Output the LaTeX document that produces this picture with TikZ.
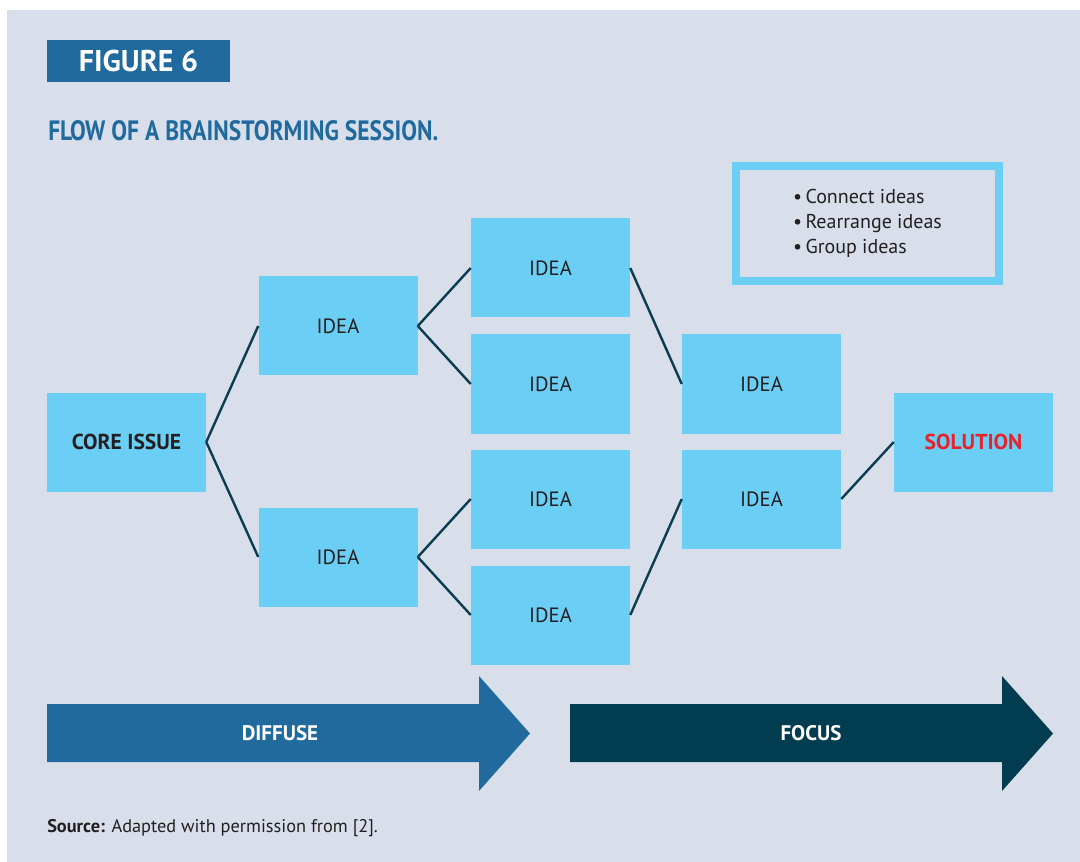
\documentclass[tikz,border=0pt]{standalone}
\usepackage{fontspec}
\setmainfont{PT Sans}
\newfontfamily\condfont[FakeStretch=0.84]{PT Sans}
\definecolor{panelgray}{HTML}{D8DFEB}
\definecolor{ideacyan}{HTML}{6BCFF5}
\definecolor{figblue}{HTML}{216A9E}
\definecolor{focusdark}{HTML}{023C50}
\definecolor{linkteal}{HTML}{0B3D50}
\definecolor{solred}{HTML}{E8212A}
\definecolor{inkdark}{HTML}{231F20}

\begin{document}
\begin{tikzpicture}[x=0.75pt,y=0.75pt,yscale=-1,xscale=1,
	idea/.style={fill=ideacyan, minimum width=119.25pt, minimum height=74.25pt, inner sep=0pt, text=inkdark, font=\fontsize{15.5}{18}\selectfont},
	link/.style={draw=linkteal, line width=1.8pt},
	banner/.style={text=white, font=\bfseries\fontsize{15.8}{18}\selectfont, inner sep=0.75pt}]
	\useasboundingbox (0,0) rectangle (1080,862);
	\fill [white] (0,0) rectangle (1080,862);
	\fill [panelgray] (7,10) rectangle (1080,862);

	% Text Node
	\node (figtag) [fill=figblue, minimum width=137.25pt, minimum height=31.5pt, inner sep=0pt, text=white, font=\bfseries\fontsize{22.5}{26}\selectfont] at (138.5,61) {FIGURE 6};
	% Text Node
	\node (title) [anchor=base west, inner sep=0pt, text=figblue, font=\condfont\bfseries\fontsize{21}{25}\selectfont] at (48,141) {FLOW OF A BRAINSTORMING SESSION.};
	% Text Node
	\node (todo) [draw=ideacyan, line width=6pt, minimum width=197.25pt, minimum height=86.25pt, inner sep=0pt, align=left, text=inkdark, font=\fontsize{15}{18.75}\selectfont] at (867.5,223.5) {\textbullet\,Connect ideas\\ \textbullet\,Rearrange ideas\\ \textbullet\,Group ideas};

	% Text Node
	\node (core) [idea, font=\bfseries\fontsize{16.2}{18}\selectfont] at (126.5,442) {CORE ISSUE};
	\node (i1) [idea] at (338,326) {IDEA};
	\node (i2) [idea] at (338,557) {IDEA};
	\node (i11) [idea] at (550.5,268) {IDEA};
	\node (i12) [idea] at (550.5,384) {IDEA};
	\node (i21) [idea] at (550.5,499) {IDEA};
	\node (i22) [idea] at (550.5,615) {IDEA};
	\node (f1) [idea] at (761.5,384) {IDEA};
	\node (f2) [idea] at (761.5,499) {IDEA};
	\node (sol) [idea, text=solred, font=\bfseries\fontsize{16.2}{18}\selectfont] at (973.5,442) {SOLUTION};

	% Connection
	\draw [link] (core.east) -- (i1.west);
	\draw [link] (core.east) -- (i2.west);
	\draw [link] (i1.east) -- (i11.west);
	\draw [link] (i1.east) -- (i12.west);
	\draw [link] (i2.east) -- (i21.west);
	\draw [link] (i2.east) -- (i22.west);
	\draw [link] (i11.east) -- (f1.west);
	\draw [link] (i22.east) -- (f2.west);
	\draw [link] (f2.east) -- (sol.west);

	% Arrows
	\fill [figblue] (47,704) -- (479,704) -- (479,676) -- (530,733.5) -- (479,791) -- (479,762) -- (47,762) -- cycle;
	\fill [focusdark] (570,704) -- (1002,704) -- (1002,676) -- (1053,733.5) -- (1002,791) -- (1002,762) -- (570,762) -- cycle;
	\node (diffuse) [banner] at (280,733) {DIFFUSE};
	\node (focus) [banner] at (811,733) {FOCUS};

	% Text Node
	\node (source) [anchor=base west, inner sep=0pt, text=inkdark, font=\fontsize{13.75}{16}\selectfont] at (47,832) {\textbf{Source:} Adapted with permission from [2].};

\end{tikzpicture}
\end{document}
